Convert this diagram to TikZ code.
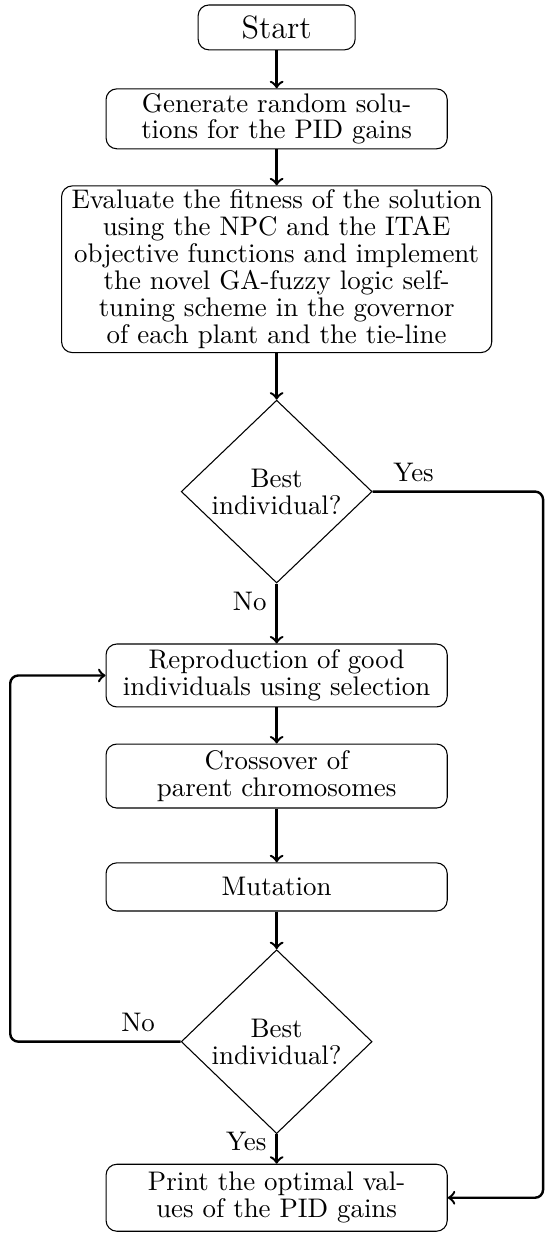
\documentclass[tikz,border=0pt]{standalone}
\usepackage{amsmath}
\usepackage{tikz}
\usetikzlibrary{shapes.geometric,arrows,positioning,calc}

\begin{document}
\begin{tikzpicture}[
    node distance=14pt,
    block/.style={rectangle, draw, rounded corners=4pt, align=center, font=\fontsize{10}{10}\selectfont, minimum width=126.9pt, inner sep=1.5pt},
    decision/.style={diamond, draw, align=center, inner sep=0pt, minimum width=71pt, minimum height=68pt, font=\fontsize{10}{10}\selectfont},
    arrow/.style={->, >=to, line width=0.9pt},
    rail/.style={->, >=to, line width=0.9pt, rounded corners=3pt}
]
\useasboundingbox (-102.9pt,10.2pt) rectangle (101.7pt,-452.5pt);

% boxes of the flow
\node[block, minimum width=58.4pt, minimum height=16.7pt, font=\large] (start) at (0,0) {Start};
\node[block, minimum height=22.3pt, below=14.1pt of start] (init) {Generate random solu-\\tions for the PID gains};
\node[block, minimum width=160pt, minimum height=55pt, below=13.4pt of init] (eval) {Evaluate the fitness of the solution\\using the NPC and the ITAE\\objective functions and implement\\the novel GA-fuzzy logic self-\\tuning scheme in the governor\\of each plant and the tie-line};
\node[decision, below=17.3pt of eval] (best1) {Best\\individual?};
\node[block, minimum height=23.4pt, below=22.3pt of best1] (select) {Reproduction of good\\individuals using selection};
\node[block, minimum height=23.8pt, below=13.4pt of select] (cross) {Crossover of\\parent chromosomes};
\node[block, minimum height=17.9pt, below=20pt of cross] (mutate) {Mutation};
\node[decision, minimum height=68.4pt, below=14pt of mutate] (best2) {Best\\individual?};
\node[block, minimum height=24.9pt, below=11pt of best2] (print) {Print the optimal val-\\ues of the PID gains};

% side rails of the loops
\coordinate (leftrail) at (-99.1pt,0);
\coordinate (rightrail) at (99.1pt,0);

% arrows down the middle
\draw[arrow] (start) -- (init);
\draw[arrow] (init) -- (eval);
\draw[arrow] (eval) -- (best1);
\draw[arrow] (best1) -- node[left, pos=0.3] {No} (select);
\draw[arrow] (select) -- (cross);
\draw[arrow] (cross) -- (mutate);
\draw[arrow] (mutate) -- (best2);
\draw[arrow] (best2) -- node[left, pos=0.25] {Yes} (print);

% loop back and exit
\draw[rail] (best1.east) -- node[above, pos=0.24] {Yes} (best1.east -| rightrail) |- (print.east);
\draw[rail] (best2.west) -- node[above, pos=0.25] {No} (best2.west -| leftrail) |- (select.west);

\end{tikzpicture}
\end{document}
